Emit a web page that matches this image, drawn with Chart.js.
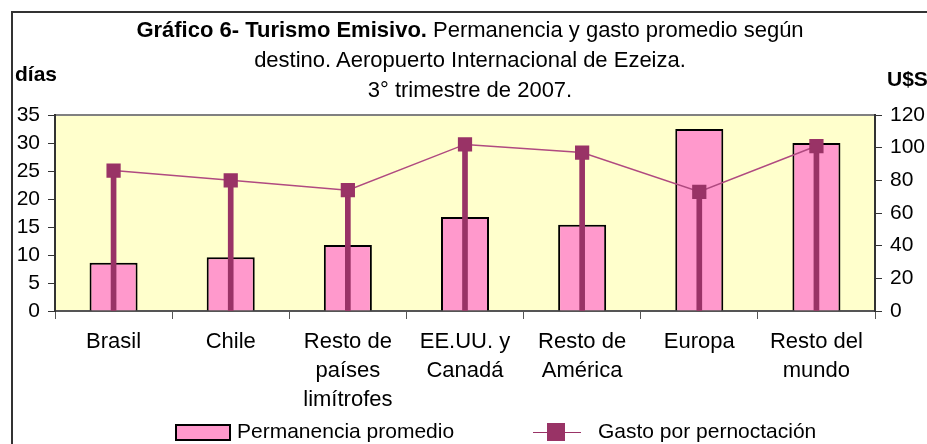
<!DOCTYPE html>
<html>
<head>
<meta charset="utf-8">
<script src="https://cdn.jsdelivr.net/npm/chart.js@4"></script>
<style>
  body { margin: 0; background: #fff; font-family: "Liberation Sans", Arial, sans-serif; }
  #wrap { position: relative; width: 927px; height: 444px; overflow: hidden; }
  #frame { position: absolute; left: 11px; top: 11px; width: 1000px; height: 500px; border-left: 2px solid #333; border-top: 2px solid #333; }
  canvas { position: absolute; left: 0; top: 0; }
  .txt { position: absolute; color: #000; font-size: 21px; white-space: nowrap; }
  #title { left: 0; width: 940px; top: 15px; text-align: center; line-height: 30px; font-size: 22px; }
  .sw { display: inline-block; position: absolute; }
</style>
</head>
<body>
<div id="wrap">
  <div id="frame"></div>
  <canvas id="chart" width="927" height="444"></canvas>
  <div id="title" class="txt"><b>Gráfico 6- Turismo Emisivo.</b> Permanencia y gasto promedio según<br>destino. Aeropuerto Internacional de Ezeiza.<br>3° trimestre de 2007.</div>
  <div class="txt" style="left:15px; top:62px;"><b>días</b></div>
  <div class="txt" style="left:887px; top:67px;"><b>U$S</b></div>
  <div class="sw" style="left:175px; top:424px; width:52px; height:13px; background:#FF99CC; border:2px solid #000;"></div>
  <div class="txt" style="left:237px; top:419px;">Permanencia promedio</div>
  <div class="sw" style="left:533px; top:432px; width:48px; height:1px; background:#993366;"></div>
  <div class="sw" style="left:547px; top:423px; width:18px; height:18px; background:#993366;"></div>
  <div class="txt" style="left:598px; top:419px;">Gasto por pernoctación</div>
</div>
<script>
const destinos = [
  "Brasil",
  "Chile",
  ["Resto de", "países", "limítrofes"],
  ["EE.UU. y", "Canadá"],
  ["Resto de", "América"],
  "Europa",
  ["Resto del", "mundo"]
];
const permanencia = [8.6, 9.6, 11.8, 16.8, 15.4, 32.5, 30.0];
const gasto = [86, 80, 74, 102, 97, 73, 101];
const diasTicks = [0, 35, 5];
const usdTicks = [0, 120, 20];

const plotBg = {
  id: 'plotBg',
  beforeDraw(c) {
    const a = c.chartArea, ctx = c.ctx;
    ctx.save();
    ctx.fillStyle = '#FFFFCC';
    ctx.fillRect(a.left, a.top, a.right - a.left, a.bottom - a.top);
    ctx.strokeStyle = '#808080';
    ctx.lineWidth = 2;
    ctx.beginPath();
    ctx.moveTo(a.left, a.top);
    ctx.lineTo(a.right, a.top);
    ctx.stroke();
    ctx.restore();
  }
};

const fam = '"Liberation Sans", Arial, sans-serif';

new Chart(document.getElementById('chart'), {
  type: 'bar',
  data: {
    labels: destinos,
    datasets: [{
      label: 'Gasto por pernoctación',
      type: 'line',
      data: gasto,
      yAxisID: 'y2',
      borderColor: '#B04A80',
      borderWidth: 1.5,
      pointStyle: 'rect',
      pointRadius: 9,
      pointBackgroundColor: '#993366',
      pointBorderColor: '#993366',
      order: 0
    }, {
      label: 'drop',
      data: gasto,
      yAxisID: 'y2',
      backgroundColor: '#993366',
      barThickness: 5,
      grouped: false,
      order: 1
    }, {
      label: 'Permanencia promedio',
      data: permanencia,
      yAxisID: 'y',
      backgroundColor: '#FF99CC',
      borderColor: '#000',
      borderWidth: 2,
      barPercentage: 0.41,
      categoryPercentage: 1,
      grouped: false,
      order: 2
    }]
  },
  options: {
    responsive: false,
    animation: false,
    layout: { padding: { top: 115, left: 0, right: 0, bottom: 0 } },
    plugins: { legend: { display: false }, tooltip: { enabled: false } },
    scales: {
      x: {
        grid: { drawOnChartArea: false, offset: true, color: '#555', tickLength: 8 },
        border: { color: '#555', width: 2 },
        ticks: { color: '#000', font: { family: fam, size: 22, lineHeight: 1.32 }, maxRotation: 0, autoSkip: false, padding: 8 },
        afterFit: s => { s.height = 133; }
      },
      y: {
        position: 'left',
        min: diasTicks[0], max: diasTicks[1],
        grid: { drawOnChartArea: false, color: '#333', tickLength: 7 },
        border: { color: '#333', width: 2 },
        ticks: { stepSize: diasTicks[2], autoSkip: false, color: '#000', font: { family: fam, size: 21 }, padding: 8 },
        afterFit: s => { s.width = 55; }
      },
      y2: {
        position: 'right',
        min: usdTicks[0], max: usdTicks[1],
        grid: { drawOnChartArea: false, color: '#333', tickLength: 7 },
        border: { color: '#333', width: 2 },
        ticks: { stepSize: usdTicks[2], autoSkip: false, color: '#000', font: { family: fam, size: 21 }, padding: 8 },
        afterFit: s => { s.width = 52; }
      }
    }
  },
  plugins: [plotBg]
});
</script>
</body>
</html>
